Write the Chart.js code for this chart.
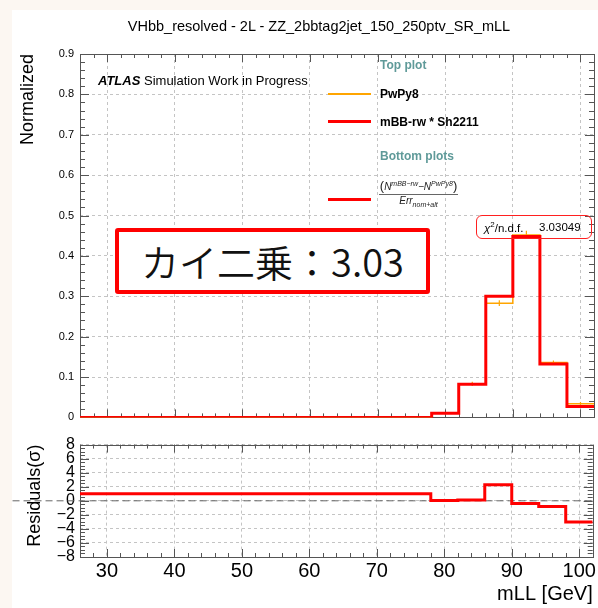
<!DOCTYPE html>
<html>
<head>
<meta charset="utf-8">
<script src="https://cdn.jsdelivr.net/npm/chart.js@4.4.1/dist/chart.umd.min.js"></script>
<style>
  body { margin: 0; width: 598px; height: 608px; overflow: hidden; position: relative; background: #fcf7f2; font-family: "Liberation Sans", Arial, sans-serif; color: #000; }
  #panel { position: absolute; left: 12px; top: 10px; right: 0; bottom: 0; background: #fff; }
  canvas { position: absolute; left: 0; }
  #topPlot { top: 0; }
  #botPlot { top: 430px; }
  .t { position: absolute; white-space: nowrap; transform: translateY(-50%); }
  .key { position: absolute; }
  #title { left: 319px; top: 26px; font-size: 14.5px; transform: translate(-50%, -50%); }
  #atlas { left: 98px; top: 80px; font-size: 13px; }
  #atlas b { font-style: italic; }
  .leg { left: 380px; font-size: 12px; font-weight: bold; }
  .hdr { color: #5f9a99; }
  #frac { position: absolute; left: 379px; top: 178px; width: 79px; font-size: 10px; font-style: italic; text-align: center; color: #222; line-height: 11px; }
  #frac .num { border-bottom: 1px solid #666; padding-bottom: 2px; white-space: nowrap; }
  #frac .num .p { font-style: normal; font-size: 13px; }
  #frac sup, #frac sub { font-size: 7px; }
  #chi { position: absolute; left: 476px; top: 215px; width: 116px; height: 24px; box-sizing: border-box; border: 1px solid #ff2020; border-radius: 6px; font-size: 11.5px; }
  #chi span { position: absolute; top: 50%; transform: translateY(-50%); }
  #jp { position: absolute; left: 115px; top: 228px; width: 315px; height: 66px; box-sizing: border-box; border: 4px solid #ff0000; border-radius: 3px; background: #fff;
        font-family: "Noto Sans CJK JP", sans-serif; font-weight: 350; font-size: 38px; line-height: 58px; text-align: center; color: #111; }
</style>
</head>
<body>
<div id="panel"></div>
<canvas id="topPlot" width="598" height="430"></canvas>
<canvas id="botPlot" width="598" height="178"></canvas>

<div class="t" id="title">VHbb_resolved - 2L - ZZ_2bbtag2jet_150_250ptv_SR_mLL</div>
<div class="t" id="atlas"><b>ATLAS</b> Simulation Work in Progress</div>
<div class="t leg hdr" style="top:65px">Top plot</div>
<div class="key" style="left:328px;top:93px;width:43px;height:2px;background:#ffa500"></div>
<div class="t leg" style="top:94px">PwPy8</div>
<div class="key" style="left:328px;top:120px;width:43px;height:3px;background:#ff0000"></div>
<div class="t leg" style="top:122px">mBB-rw * Sh2211</div>
<div class="t leg hdr" style="top:156px">Bottom plots</div>
<div class="key" style="left:328px;top:198px;width:43px;height:3px;background:#ff0000"></div>
<div id="frac">
  <div class="num"><span class="p">(</span>N<sup>mBB−rw</sup>−N<sup>PwPy8</sup><span class="p">)</span></div>
  <div>Err<sub>nom+alt</sub></div>
</div>
<div id="chi"><span style="left:7px"><i>χ</i><sup style="font-size:8px">2</sup>/n.d.f.</span><span style="left:62px">3.03049</span></div>
<div id="jp">カイ二乗：3.03</div>

<script>
// bin edges of the mLL histogram (GeV)
const binEdges = [26, 30, 34, 38, 42, 46, 50, 54, 58, 62, 66, 70, 74, 78, 82, 86, 90, 94, 98, 102];
const xTicks = [30, 40, 50, 60, 70, 80, 90, 100];

// normalized yields per bin
const pwpy8    = [0, 0, 0, 0, 0, 0, 0, 0, 0, 0, 0, 0, 0, 0.010, 0.083, 0.283, 0.452, 0.136, 0.034];
const pwpy8Err = [0, 0, 0, 0, 0, 0, 0, 0, 0, 0, 0, 0, 0, 0.002, 0.005, 0.007, 0.010, 0.005, 0.004];
const mbbRw    = [0, 0, 0, 0, 0, 0, 0, 0, 0, 0, 0, 0, 0, 0.010, 0.082, 0.300, 0.448, 0.132, 0.027];

// residuals (sigma)
const residuals = [1.0, 1.0, 1.0, 1.0, 1.0, 1.0, 1.0, 1.0, 1.0, 1.0, 1.0, 1.0, 1.0, 0.05, 0.1, 2.3, -0.4, -0.8, -3.0];
const zeroLineX = [16, 102];

const RED = "#ff0000";
const ORANGE = "#ffa500";
const GRID = "#c4c4c4";

function stepPoints(vals){
  const pts = vals.map((v, i) => ({ x: binEdges[i], y: v }));
  pts.push({ x: binEdges[vals.length], y: vals[vals.length - 1] });
  return pts;
}

function errorPoints(vals, errs){
  const pts = [];
  vals.forEach((v, i) => {
    if (!errs[i]) return;
    const c = (binEdges[i] + binEdges[i + 1]) / 2;
    pts.push({ x: c, y: v - errs[i] }, { x: c, y: v + errs[i] }, { x: c, y: null });
  });
  return pts;
}

// ROOT style frame with inward ticks on all four sides
const framePlugin = {
  id: "frame",
  beforeDatasetsDraw(chart, args, opts){
    const { ctx, chartArea: a, scales: { x, y } } = chart;
    ctx.save();
    ctx.strokeStyle = "#555";
    ctx.lineWidth = 1;
    ctx.strokeRect(Math.round(a.left) + 0.5, Math.round(a.top) + 0.5, Math.round(a.right - a.left), Math.round(a.bottom - a.top));
    const isMajor = (v, m) => Math.abs(v / m - Math.round(v / m)) < 1e-6;
    ctx.beginPath();
    for (let i = Math.ceil(x.min / opts.xMinor); i * opts.xMinor <= x.max + 1e-9; i++){
      const v = i * opts.xMinor;
      const px = Math.round(x.getPixelForValue(v)) + 0.5;
      const len = isMajor(v, opts.xMajor) ? 8 : 4;
      ctx.moveTo(px, a.bottom); ctx.lineTo(px, a.bottom - len);
      ctx.moveTo(px, a.top); ctx.lineTo(px, a.top + len);
    }
    for (let i = Math.ceil(y.min / opts.yMinor - 1e-9); i * opts.yMinor <= y.max + 1e-9; i++){
      const v = i * opts.yMinor;
      const py = Math.round(y.getPixelForValue(v)) + 0.5;
      const len = isMajor(v, opts.yMajor) ? 9 : 5;
      ctx.moveTo(a.left, py); ctx.lineTo(a.left + len, py);
      ctx.moveTo(a.right, py); ctx.lineTo(a.right - len, py);
    }
    ctx.stroke();
    ctx.restore();
  }
};

const gridOpts = { color: GRID, lineWidth: 1, drawTicks: false };
const borderOpts = { display: false, dash: [3, 3] };
const setXTicks = s => { s.ticks = xTicks.map(v => ({ value: v })); };

// datasets with lower "order" are painted on top
new Chart(document.getElementById("topPlot"), {
  type: "line",
  data: {
    datasets: [
      { data: stepPoints(mbbRw), borderColor: RED, borderWidth: 3, stepped: true, pointRadius: 0, order: 0 },
      { data: stepPoints(pwpy8), borderColor: ORANGE, borderWidth: 1.5, stepped: true, pointRadius: 0, order: 1 },
      { data: errorPoints(pwpy8, pwpy8Err), borderColor: ORANGE, borderWidth: 1.2, pointRadius: 0, spanGaps: false, order: 2 },
    ],
  },
  options: {
    responsive: false,
    animation: false,
    events: [],
    layout: { padding: { top: 54, right: 4, left: 0, bottom: 0 } },
    plugins: { legend: { display: false }, tooltip: { enabled: false },
               frame: { xMinor: 2, xMajor: 10, yMinor: 0.02, yMajor: 0.1 } },
    scales: {
      x: { type: "linear", min: 26, max: 102, afterBuildTicks: setXTicks,
           ticks: { display: false }, grid: gridOpts, border: borderOpts,
           afterFit: s => { s.height = 10; } },
      y: { min: 0, max: 0.9, ticks: { stepSize: 0.1, autoSkip: false, color: "#000", font: { family: "Liberation Sans", size: 11 }, padding: 6 },
           grid: gridOpts, border: borderOpts,
           title: { display: true, text: "Normalized", align: "end", color: "#000",
                    font: { family: "Liberation Sans", size: 18 }, padding: { top: 17, bottom: 0 } },
           afterFit: s => { s.width = 80; } },
    },
  },
  plugins: [framePlugin],
});

new Chart(document.getElementById("botPlot"), {
  type: "line",
  data: {
    datasets: [
      { data: stepPoints(residuals), borderColor: RED, borderWidth: 3, stepped: true, pointRadius: 0, order: 0 },
      { data: zeroLineX.map(v => ({ x: v, y: 0 })), borderColor: "#666", borderWidth: 1, borderDash: [7, 4], pointRadius: 0, clip: false, order: 1 },
    ],
  },
  options: {
    responsive: false,
    animation: false,
    events: [],
    layout: { padding: { top: 11, right: 4, left: 0, bottom: 0 } },
    plugins: { legend: { display: false }, tooltip: { enabled: false },
               frame: { xMinor: 2, xMajor: 10, yMinor: 0.5, yMajor: 2 } },
    scales: {
      x: { type: "linear", min: 26, max: 102, afterBuildTicks: setXTicks,
           ticks: { color: "#000", font: { family: "Liberation Sans", size: 20 }, padding: 2, maxRotation: 0, autoSkip: false },
           grid: gridOpts, border: borderOpts,
           title: { display: true, text: "mLL [GeV]", align: "end", color: "#000",
                    font: { family: "Liberation Sans", size: 20 }, padding: { top: 0, bottom: 2 } },
           afterFit: s => { s.height = 51; } },
      y: { min: -8, max: 8, ticks: { stepSize: 2, autoSkip: false, color: "#000", font: { family: "Liberation Sans", size: 16 }, padding: 5,
                                     callback: v => String(v).replace("-", "−") },
           grid: gridOpts, border: borderOpts,
           title: { display: true, text: "Residuals(σ)", align: "end", color: "#000",
                    font: { family: "Liberation Sans", size: 18 }, padding: { top: 24, bottom: 0 } },
           afterFit: s => { s.width = 80; } },
    },
  },
  plugins: [framePlugin],
});
</script>
</body>
</html>
